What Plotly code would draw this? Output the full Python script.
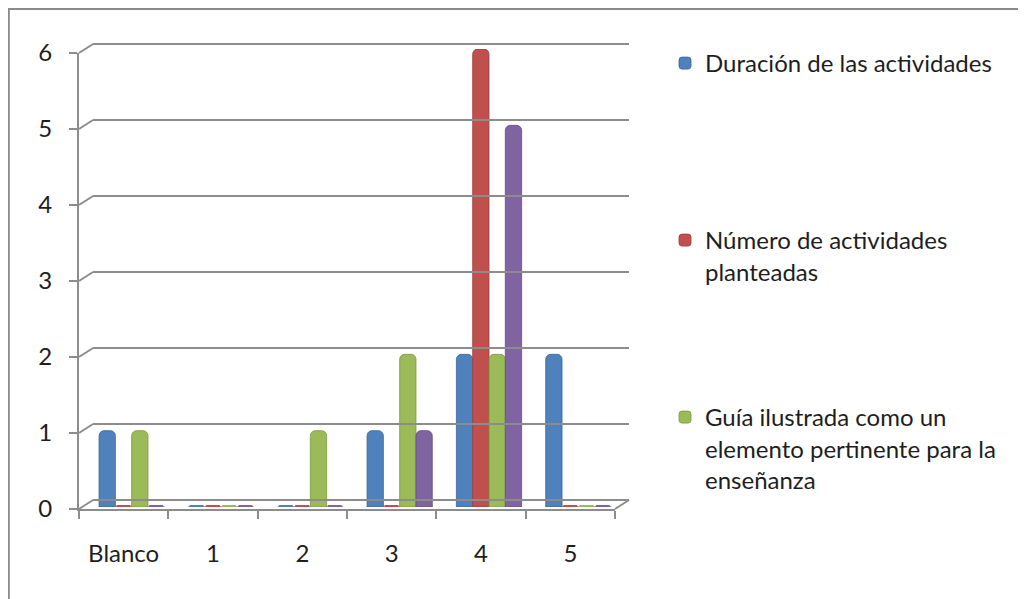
import plotly.graph_objects as go

# ---------------- data ----------------
categories = ["Blanco", "1", "2", "3", "4", "5"]
duracion = [1, 0, 0, 1, 2, 2]
numero = [0, 0, 0, 0, 6, 0]
guia = [1, 0, 1, 2, 2, 0]
serie4 = [0, 0, 0, 1, 5, 0]
series_names = [
    "Duración de las actividades",
    "Número de actividades<br>planteadas",
    "Guía ilustrada como un<br>elemento pertinente para la<br>enseñanza",
    "Serie 4",
]
series_values = [duracion, numero, guia, serie4]
colors = ["#4F81BD", "#C0504D", "#9BBB59", "#8064A2"]
edge_colors = ["#3A6598", "#9E3B38", "#7A9741", "#624B80"]
y_ticks = [0, 1, 2, 3, 4, 5, 6]

# ---------------- geometry (pixels, screen coordinates) ----------------
W, H = 1026, 599
OFF = 8  # page body margin offset of the plot div
FONT = "Lato, 'Open Sans', sans-serif"
FS = 24
TXT = "#1E1E1E"
GRID = "#8C8C8C"


def fx(p):
    return (p - OFF) / W


def fy(p):
    return 1 - (p - OFF) / H


# front plane (labels / axis lines)
FX0, FX1, FY0, FY6 = 79, 615, 509, 53
# back wall (gridlines)
BX0, BX1, BY0, BY6 = 93, 629, 500, 44
# bar plane
RX0, RX1, RY0, RY6 = 87, 623, 507, 49

# grid axis padded slightly so that the edge gridlines are drawn
PAD = 0.2
u = (BY0 - BY6) / 6.0
GY_BOT, GY_TOP = BY0 + PAD * u, BY6 - PAD * u

fig = go.Figure()

legends = ["legend", "legend2", "legend3", None]
for name, vals, col, ecol, lg in zip(series_names, series_values, colors, edge_colors, legends):
    fig.add_trace(go.Bar(
        x=categories, y=vals, name=name,
        marker=dict(color=col, line=dict(color=ecol, width=0.8), cornerradius=5),
        offsetgroup=name, xaxis="x", yaxis="y",
        showlegend=lg is not None,
        legend=lg if lg else "legend",
    ))

# zero-valued bars show as flat disks on the floor
for name, vals, col in zip(series_names, series_values, colors):
    fig.add_trace(go.Scatter(
        x=categories, y=[0 if v == 0 else None for v in vals],
        mode="markers", offsetgroup=name, showlegend=False,
        marker=dict(symbol="line-ew", size=10, line=dict(color=col, width=4)),
        xaxis="x", yaxis="y", hoverinfo="skip",
    ))

# invisible trace to hold the back-wall grid axes
fig.add_trace(go.Scatter(x=[0], y=[0], xaxis="x2", yaxis="y2", mode="markers",
                         marker=dict(opacity=0), showlegend=False, hoverinfo="skip"))
# invisible trace to hold the front label axes
fig.add_trace(go.Scatter(x=categories, y=[0] * len(categories), xaxis="x3", yaxis="y3",
                         mode="markers", marker=dict(opacity=0), showlegend=False,
                         hoverinfo="skip"))

# connecting 3D edges
shapes = []
for v in y_ticks:
    yf = FY0 + (FY6 - FY0) * v / 6
    yb = BY0 + (BY6 - BY0) * v / 6
    shapes.append(dict(type="line", xref="paper", yref="paper",
                       x0=fx(FX0), y0=fy(yf), x1=fx(BX0), y1=fy(yb),
                       line=dict(color=GRID, width=2), layer="below"))
shapes.append(dict(type="line", xref="paper", yref="paper",
                   x0=fx(FX1), y0=fy(FY0), x1=fx(BX1), y1=fy(BY0),
                   line=dict(color=GRID, width=2), layer="below"))
# outer chart border
shapes.append(dict(type="rect", xref="paper", yref="paper",
                   x0=0.0008, y0=-0.02, x1=fx(1021), y1=0.9985,
                   line=dict(color="#8A8A8A", width=2)))

fig.update_layout(
    width=W, height=H,
    margin=dict(l=0, r=0, t=0, b=0, autoexpand=False),
    paper_bgcolor="white", plot_bgcolor="rgba(0,0,0,0)",
    barmode="group", bargap=0.27, bargroupgap=0,
    scattermode="group", scattergap=0.27,
    font=dict(family=FONT, size=FS, color=TXT),
    shapes=shapes,
    xaxis=dict(domain=[fx(RX0), fx(RX1)], anchor="y", type="category",
               range=[-0.5, 5.5], showgrid=False, showticklabels=False,
               zeroline=False, showline=False),
    yaxis=dict(domain=[fy(RY0), fy(RY6)], anchor="x", range=[0, 6],
               showgrid=False, showticklabels=False, zeroline=False, showline=False),
    xaxis2=dict(domain=[fx(BX0), fx(BX1)], anchor="y2", range=[0, 1],
                showgrid=False, showticklabels=False, zeroline=False, showline=False),
    yaxis2=dict(domain=[fy(GY_BOT), fy(GY_TOP)], anchor="x2", range=[-PAD, 6 + PAD],
                tickvals=y_ticks, showgrid=True, gridcolor=GRID, gridwidth=2,
                showticklabels=False, zeroline=False, showline=False),
    xaxis3=dict(domain=[fx(FX0), fx(FX1)], anchor="y3", type="category",
                range=[-0.5, 5.5], showgrid=False, showline=True, linecolor=GRID,
                linewidth=2, ticks="outside", ticklen=8, tickcolor=GRID, tickwidth=2,
                tickson="boundaries", ticklabelstandoff=22,
                tickfont=dict(family=FONT, size=FS, color=TXT), zeroline=False),
    yaxis3=dict(domain=[fy(FY0), fy(FY6)], anchor="x3", range=[0, 6],
                tickvals=y_ticks, showgrid=False, showline=True, linecolor=GRID,
                linewidth=2, ticks="outside", ticklen=8, tickcolor=GRID, tickwidth=2,
                ticklabelstandoff=12, zeroline=False,
                tickfont=dict(family=FONT, size=FS, color=TXT)),
)

leg_common = dict(xanchor="left", yanchor="top", bgcolor="rgba(0,0,0,0)",
                  font=dict(family=FONT, size=FS, color=TXT), valign="top",
                  itemclick=False, itemdoubleclick=False)
fig.update_layout(
    legend=dict(x=fx(665), y=fy(41), **leg_common),
    legend2=dict(x=fx(665), y=fy(218), **leg_common),
    legend3=dict(x=fx(665), y=fy(395), **leg_common),
)

fig.write_html("out.html")
